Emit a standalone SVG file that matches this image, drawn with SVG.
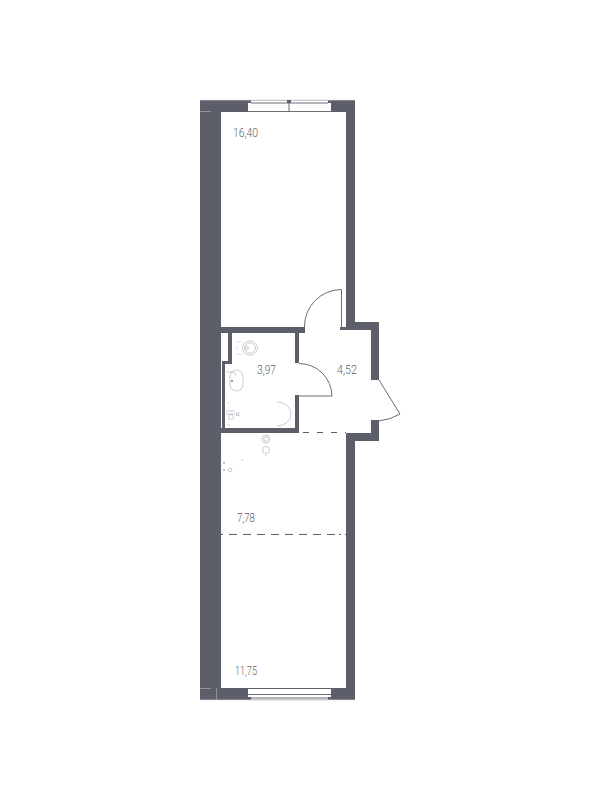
<svg xmlns="http://www.w3.org/2000/svg" width="600" height="800" viewBox="0 0 600 800">
<style>
.w{fill:#5c5f69}
.g{fill:none;stroke:#6a6d76;stroke-width:1}
.e{fill:none;stroke:#a9abb0;stroke-width:.7}
.f{fill:none;stroke:#a6a8ad;stroke-width:.6}
.d{fill:none;stroke:#5c5f69;stroke-width:1}
text{font-family:"Roboto","Liberation Sans",sans-serif;font-size:12px;fill:#5c5f69;font-weight:300}
</style>
<rect width="600" height="800" fill="#fff"/>
<g id="walls">
<path class="w" d="M200 100H355V322H379V380H371V330H340V327H346V112H221V327H305V333H299V363H295V333H232V364H225V428H295V395H299V433H221V688H346V433H371V420H379V441H355V700H200Z"/>
<rect x="221" y="333" width="7" height="28" fill="#fff"/>
<rect x="221" y="361" width="1" height="67" fill="#fff"/>
<path class="e" d="M200 111.500H211M200 688.500H211M216.500 688V700M200 100.300H355M200 699.700H355"/>
</g>
<g id="windows">
<rect x="248" y="103" width="83" height="9" fill="#fff"/>
<rect x="251" y="100" width="77" height="3" fill="#fff"/>
<path class="e" d="M251 100.500H328"/>
<path class="g" d="M251 103H328M248 111.500H331"/>
<rect x="287" y="100" width="4" height="3" class="w"/>
<path class="g" d="M289 103V112" stroke-width="1.500"/>
<rect x="248" y="689" width="83" height="8" fill="#fff"/>
<rect x="251" y="697" width="77" height="3" fill="#fff"/>
<path class="g" d="M248 694.500H331M251 698H328"/>
<path class="e" d="M251 699.700H328"/>
</g>
<g id="doors">
<path class="g" d="M341.500 330V289.500A37 37 0 0 0 304.500 327"/>
<path class="g" d="M299 363.500A33 33 0 0 1 332 396M299 396H332"/>
<path class="g" d="M379 380L400 414A52 52 0 0 1 379 421"/>
</g>
<g id="dashes">
<path class="d" d="M303 432.500H346" stroke-dasharray="6 8"/>
<path class="d" d="M221 534.500H346" stroke-dasharray="2 6 8 6 8 6 8 6 8 6 8 6 8 6 8 6 8 4 2 4"/>
</g>
<g id="fixtures">
<ellipse class="f" cx="250" cy="348" rx="7.500" ry="7"/>
<ellipse class="f" cx="250" cy="348" rx="5.500" ry="5"/>
<circle class="f" cx="247" cy="348" r="1.500"/>
<path class="f" d="M236 342H243M236 354H243M237 346V350" stroke-dasharray="1.500 1.500"/>
<rect class="f" x="230" y="370" width="13" height="21" rx="6.500"/>
<path class="f" d="M226 372H232Q236 372 236 376"/>
<circle cx="232" cy="381" r="1" fill="#77797f"/>
<path class="f" d="M277 402A14 12 0 0 1 277 426"/>
<path class="f" d="M226 411H235M226 414H235M228 403.500L229 402M228 424L230 426"/>
<circle class="f" cx="231" cy="417" r="2.500"/>
<rect class="f" x="236.500" y="413" width="2.500" height="2.500"/>
<circle class="f" cx="266" cy="439" r="4"/>
<circle class="f" cx="266" cy="439" r="2.200"/>
<circle class="f" cx="266" cy="450" r="3.500"/>
<circle cx="266" cy="455" r=".6" fill="#9c9ea4"/>
<circle class="f" cx="230" cy="470" r="1.800"/>
<circle cx="224" cy="470" r=".8" fill="#77797f"/>
<circle cx="224" cy="463" r=".8" fill="#77797f"/>
<path class="f" d="M241 461L243 459"/>
</g>
<g id="labels">
<text x="233" y="137" textLength="25" lengthAdjust="spacingAndGlyphs">16,40</text>
<text x="257" y="374" textLength="19" lengthAdjust="spacingAndGlyphs">3,97</text>
<text x="337" y="374" textLength="20" lengthAdjust="spacingAndGlyphs">4,52</text>
<text x="237" y="522" textLength="18" lengthAdjust="spacingAndGlyphs">7,78</text>
<text x="235" y="675" textLength="22" lengthAdjust="spacingAndGlyphs">11,75</text>
</g>
</svg>
